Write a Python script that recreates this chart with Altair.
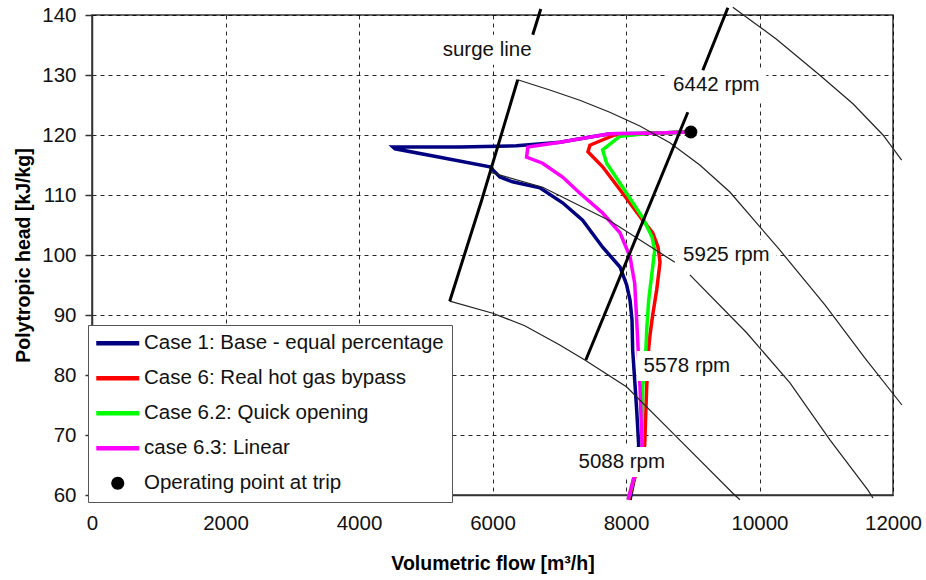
import altair as alt
import pandas as pd

# ---------------- data ----------------
# compressor speed curves (flow m3/h, head kJ/kg)
spdA_flow = [9600, 10250, 10900, 11400, 11850, 12130]
spdA_head = [141.3, 136.0, 130.0, 125.2, 120.0, 115.8]

spd6442_flow = [6378, 6858, 7308, 7757, 8207, 8657, 9106, 9556, 10306, 10980, 11580, 12134]
spd6442_head = [129.2, 127.5, 125.8, 123.8, 121.5, 118.7, 115.0, 110.5, 100.8, 91.7, 82.8, 75.0]

spd5925a_flow = [5959, 6753, 7757, 8732]
spd5925a_head = [113.8, 111.3, 105.7, 98.8]
spd5925b_flow = [8957, 9811, 10456, 11055, 11625, 11700]
spd5925b_head = [96.7, 87.0, 78.7, 69.2, 60.8, 59.5]

spd5578_flow = [5359, 6003, 6483, 7008, 7383, 8012, 8657, 9601, 9706]
spd5578_head = [92.3, 90.3, 88.2, 85.0, 82.5, 78.0, 70.8, 60.3, 59.2]

# thick black lines
surge_a_flow = [5359, 5840, 6378]
surge_a_head = [92.3, 109.2, 129.2]
surge_b_flow = [6603, 6723]
surge_b_head = [136.7, 141.0]
right_a_flow = [7398, 8926]
right_a_head = [82.5, 123.8]
right_b_flow = [9151, 9526]
right_b_head = [130.8, 141.2]

# trip trajectories
case1_flow = [8970, 8360, 7760, 7380, 7010, 6360, 5510, 4510, 4540, 5210, 5960, 6110, 6300, 6710,
              7050, 7350, 7650, 7910, 8010, 8060, 8090, 8100, 8130, 8160, 8190, 8120, 8060]
case1_head = [120.5, 120.3, 120.2, 119.5, 118.8, 118.2, 118.0, 118.0, 117.7, 116.3, 114.7, 113.0, 112.2, 111.2,
              108.7, 105.8, 101.3, 98.0, 95.0, 92.5, 89.2, 84.2, 79.2, 74.2, 68.3, 62.5, 59.2]

case6_flow = [8970, 8360, 7830, 7610, 7460, 7430, 7650, 7950, 8250, 8400, 8480, 8510, 8460, 8400,
              8360, 8340, 8310, 8280, 8100, 8040]
case6_head = [120.5, 120.3, 120.0, 119.0, 118.3, 117.2, 114.7, 110.3, 105.8, 103.7, 101.3, 98.8, 94.2, 90.0,
              86.7, 84.5, 78.0, 68.3, 61.7, 59.2]

case62_flow = [8970, 8360, 7910, 7650, 7710, 7950, 8250, 8390, 8430, 8400, 8340, 8310, 8300, 8250,
               8240, 8090, 8030]
case62_head = [120.5, 120.3, 119.8, 117.5, 115.3, 111.3, 106.2, 103.0, 100.8, 98.0, 92.5, 87.5, 84.5, 78.0,
               68.3, 61.7, 59.2]

case63_flow = [8970, 8360, 7760, 7380, 7010, 6530, 6510, 6750, 7050, 7310, 7650, 7910, 8060, 8130,
               8160, 8180, 8210, 8240, 8090, 8030]
case63_head = [120.5, 120.3, 120.2, 119.5, 118.8, 118.0, 116.3, 115.3, 113.0, 110.3, 107.0, 103.7, 99.7, 95.3,
               89.2, 84.7, 78.0, 68.3, 61.7, 59.2]

trip_flow = [8972]
trip_head = [120.5]

# annotations
label_text = ["surge line", "6442 rpm", "5925 rpm", "5578 rpm", "5088 rpm"]
label_flow = [5920, 9354, 9504, 8912, 7937]
label_head = [134.2, 128.3, 100.0, 81.5, 65.5]

legend_names = ["Case 1: Base - equal percentage", "Case 6: Real hot gas bypass",
                "Case 6.2: Quick opening", "case 6.3: Linear", "Operating point at trip"]
legend_colors = ["#000080", "#ff0000", "#00ff00", "#ff00ff", "#000000"]

# ---------------- helpers ----------------
FONT = "Liberation Sans"


def frame(parts):
    rows = []
    for seg, (fl, hd) in enumerate(parts):
        for i, (f, h) in enumerate(zip(fl, hd)):
            rows.append({"flow": f, "head": h, "seg": seg, "idx": i})
    return pd.DataFrame(rows)


xenc = alt.X("flow:Q", title="Volumetric flow [m³/h]",
             scale=alt.Scale(domain=[0, 12000], nice=False, zero=False),
             axis=alt.Axis(values=list(range(0, 12001, 2000)), format="d", ticks=False, tickSize=0,
                           labelFlush=False, labelPadding=18, titlePadding=21))
yenc = alt.Y("head:Q", title="Polytropic head [kJ/kg]",
             scale=alt.Scale(domain=[60, 140], nice=False, zero=False),
             axis=alt.Axis(values=list(range(60, 141, 10)), tickSize=7, labelPadding=9, titlePadding=8))


def lines(df, color, width):
    return alt.Chart(df).mark_line(color=color, strokeWidth=width, clip=False).encode(
        x=xenc, y=yenc, detail="seg:N", order="idx:Q")


speed = lines(frame([(spdA_flow, spdA_head), (spd6442_flow, spd6442_head),
                     (spd5925a_flow, spd5925a_head), (spd5925b_flow, spd5925b_head),
                     (spd5578_flow, spd5578_head)]), "#222222", 1.2)
thick = lines(frame([(surge_a_flow, surge_a_head), (surge_b_flow, surge_b_head),
                     (right_a_flow, right_a_head), (right_b_flow, right_b_head)]), "#000000", 3)

case_layers = [
    lines(frame([(case1_flow, case1_head)]), legend_colors[0], 3.5),
    lines(frame([(case6_flow, case6_head)]), legend_colors[1], 3.5),
    lines(frame([(case62_flow, case62_head)]), legend_colors[2], 3.5),
    lines(frame([(case63_flow, case63_head)]), legend_colors[3], 3.5),
]

lab_df = pd.DataFrame({"flow": label_flow, "head": label_head, "text": label_text})
label_bg = alt.Chart(lab_df).mark_point(
    filled=True, color="white", opacity=1, size=10000, strokeWidth=0,
    shape="M-1.0,-0.3H1.0V0.3H-1.0Z").encode(x=xenc, y=yenc)
labels = alt.Chart(lab_df).mark_text(
    font=FONT, fontSize=20.5, color="#111111", align="center", baseline="middle").encode(
    x=xenc, y=yenc, text="text:N")

trip = alt.Chart(pd.DataFrame({"flow": trip_flow, "head": trip_head})).mark_point(
    filled=True, color="black", opacity=1, size=169, shape="circle").encode(x=xenc, y=yenc)

line_sym = "M-2.15,-0.22H2.15V0.22H-2.15Z"
dot_sym = "M-0.65,0A0.65,0.65,0,1,1,0.65,0A0.65,0.65,0,1,1,-0.65,0Z"
leg = alt.Legend(title=None, orient="none", legendX=-4, legendY=310, padding=8,
                 fillColor="white", strokeColor="#555555", cornerRadius=0,
                 symbolSize=400, symbolStrokeWidth=0, symbolOpacity=1,
                 symbolOffset=11.5, labelOffset=16, rowPadding=14,
                 labelFont=FONT, labelFontSize=20.5, labelColor="#111111", labelLimit=500)
leg_df = pd.DataFrame({"flow": trip_flow * 5, "head": trip_head * 5, "case": legend_names})
legend_layer = alt.Chart(leg_df).mark_point(filled=True, opacity=0).encode(
    x=xenc, y=yenc,
    color=alt.Color("case:N", scale=alt.Scale(domain=legend_names, range=legend_colors), legend=leg),
    shape=alt.Shape("case:N", scale=alt.Scale(domain=legend_names,
                                              range=[line_sym] * 4 + [dot_sym]), legend=leg),
)

chart = alt.layer(*case_layers, label_bg, speed, thick, labels, trip, legend_layer).properties(
    width=801, height=480,
    background="white",
    padding={"left": 92, "top": 15, "right": 33, "bottom": 85},
    autosize=alt.AutoSizeParams(type="none"),
).configure_view(stroke="#333333", strokeWidth=1.5).configure_axis(
    gridColor="#000000", gridDash=[4, 4], gridWidth=1, gridOpacity=0.85,
    domainColor="#333333", domainWidth=1.5, tickColor="#333333", tickWidth=1.5,
    labelFont=FONT, labelFontSize=20.5, labelColor="#111111",
    titleFont=FONT, titleFontSize=19.5, titleFontWeight="bold", titleColor="#000000",
)

chart.save("out.html", embed_options={"renderer": "svg", "actions": False})
